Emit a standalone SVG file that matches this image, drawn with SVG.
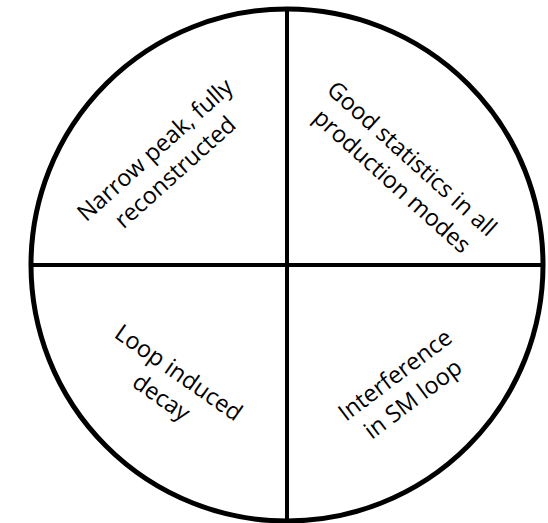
<svg xmlns="http://www.w3.org/2000/svg" width="548" height="523" viewBox="0 0 548 523">
<style>
.t{font-family:"Open Sans","Noto Sans",sans-serif;font-size:23.5px;fill:#000;text-anchor:middle}
.ln{stroke:#000;stroke-width:4;fill:none}
</style>
<rect width="548" height="523" fill="#fff"/>
<g id="connectors">
<line class="ln" x1="287" y1="9" x2="287" y2="521"/>
<line class="ln" x1="31" y1="265" x2="543" y2="265"/>
</g>
<g id="circle"><circle cx="287" cy="265" r="256" fill="none" stroke="#000" stroke-width="5"/></g>
<g id="q1"><text class="t" transform="translate(165,161) rotate(-42)"><tspan x="0" y="-7">Narrow peak, fully</tspan><tspan x="0" y="23">reconstructed</tspan></text></g>
<g id="q2"><text class="t" transform="translate(402,170) rotate(42)"><tspan x="0" y="-7">Good statistics in all</tspan><tspan x="0" y="23">production modes</tspan></text></g>
<g id="q3"><text class="t" transform="translate(170,385) rotate(35)"><tspan x="0" y="-7">Loop induced</tspan><tspan x="0" y="23">decay</tspan></text></g>
<g id="q4"><text class="t" transform="translate(404,387) rotate(-37)"><tspan x="0" y="-7">Interference</tspan><tspan x="0" y="23">in SM loop</tspan></text></g>
</svg>
